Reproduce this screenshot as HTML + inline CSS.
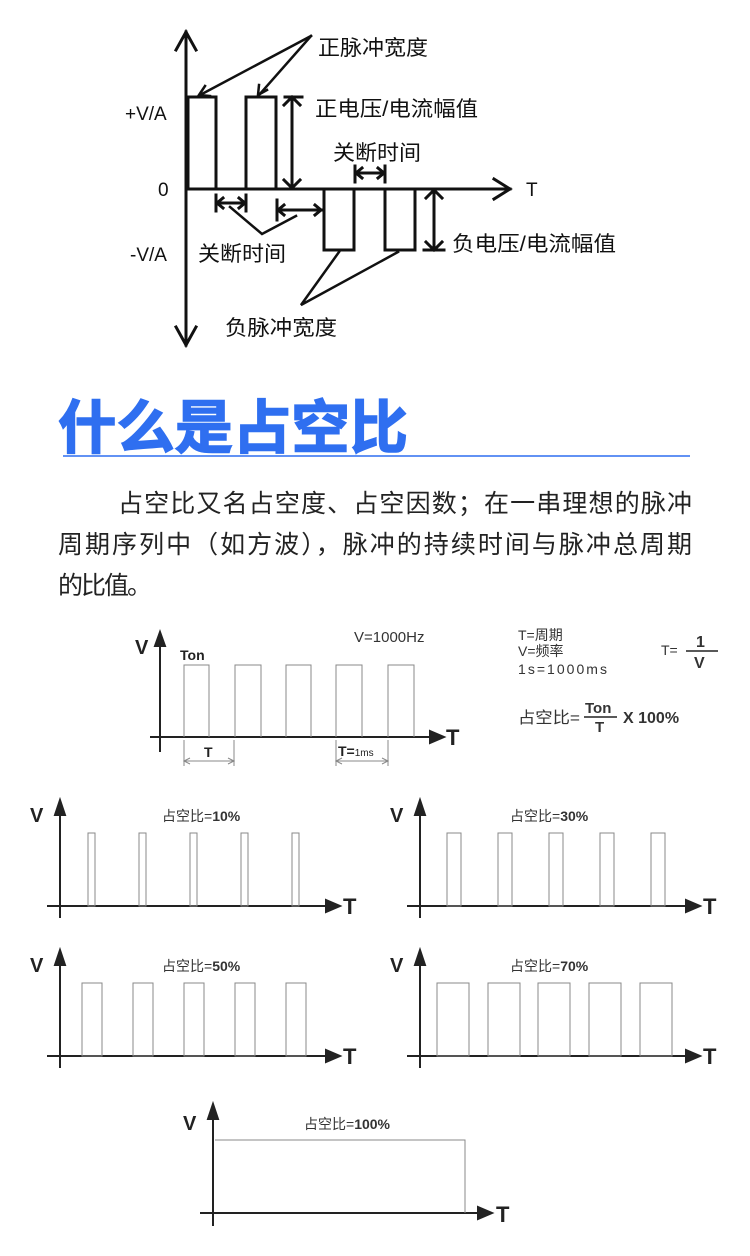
<!DOCTYPE html>
<html><head><meta charset="utf-8"><style>
html,body{margin:0;padding:0;background:#fff;}
svg{display:block;}
text{font-family:"Liberation Sans","Noto Sans CJK SC",sans-serif;}
</style></head><body>
<svg width="750" height="1256" viewBox="0 0 750 1256" xmlns="http://www.w3.org/2000/svg">
<!-- Top diagram -->
<g stroke="#111" stroke-width="3" fill="none" stroke-linecap="square">
<line x1="186" y1="32" x2="186" y2="345"/>
<polyline points="176,50 186,32 196,50"/>
<polyline points="176,327 186,345 196,327"/>
<line x1="186" y1="189" x2="510" y2="189"/>
<polyline points="494,179 510,189 494,199"/>
<polyline points="188,189 188,97 216,97 216,189"/>
<polyline points="246,189 246,97 276,97 276,189"/>
<polyline points="324,189 324,250 354,250 354,189"/>
<polyline points="385,189 385,250 415,250 415,189"/>
<line x1="292" y1="98" x2="292" y2="188"/><line x1="285" y1="97" x2="302" y2="97"/>
<polyline points="284,105 292,97 300,105"/><polyline points="284,180 292,188 300,180"/>
<line x1="434" y1="190" x2="434" y2="250"/><line x1="424" y1="250" x2="444" y2="250"/><line x1="427" y1="189" x2="441" y2="189"/>
<polyline points="426,198 434,190 442,198"/><polyline points="426,242 434,250 442,242"/>
<line x1="216" y1="203" x2="246" y2="203"/><line x1="216" y1="195" x2="216" y2="211"/><line x1="246" y1="195" x2="246" y2="211"/>
<polyline points="223,198 217,203 223,208"/><polyline points="239,198 245,203 239,208"/>
<line x1="277" y1="210" x2="322" y2="210"/><line x1="277" y1="200" x2="277" y2="220"/>
<polyline points="284,205 278,210 284,215"/><polyline points="315,205 321,210 315,215"/>
<line x1="355" y1="173" x2="385" y2="173"/><line x1="355" y1="166" x2="355" y2="182"/><line x1="385" y1="166" x2="385" y2="182"/>
<polyline points="362,168 356,173 362,178"/><polyline points="378,168 384,173 378,178"/>
<line x1="311" y1="36" x2="200" y2="95" stroke-width="2.5"/><polyline points="205,86 199,95 210,96" stroke-width="2.5"/>
<line x1="311" y1="36" x2="259" y2="95" stroke-width="2.5"/><polyline points="259,85 258,95 267,90" stroke-width="2.5"/>
<polyline points="230,207 262,234 296,216" stroke-width="2.5"/>
<polyline points="339,252 301,305 398,252" stroke-width="2.5"/>
</g>
<g font-size="21" fill="#111">
<text x="318" y="55" textLength="110" lengthAdjust="spacingAndGlyphs">正脉冲宽度</text>
<text x="315" y="116" textLength="163" lengthAdjust="spacingAndGlyphs">正电压/电流幅值</text>
<text x="333" y="160" textLength="88" lengthAdjust="spacingAndGlyphs">关断时间</text>
<text x="198" y="261" textLength="88" lengthAdjust="spacingAndGlyphs">关断时间</text>
<text x="225" y="335" textLength="112" lengthAdjust="spacingAndGlyphs">负脉冲宽度</text>
<text x="452" y="251" textLength="164" lengthAdjust="spacingAndGlyphs">负电压/电流幅值</text>
<text x="125" y="120" font-size="19">+V/A</text>
<text x="158" y="196" font-size="19">0</text>
<text x="130" y="261" font-size="19">-V/A</text>
<text x="526" y="196" font-size="19">T</text>
</g>
<!-- Title -->
<text x="58" y="448" font-size="58" font-weight="bold" fill="#2f6ff0" stroke="#2f6ff0" stroke-width="1.5" textLength="350" lengthAdjust="spacingAndGlyphs">什么是占空比</text>
<line x1="63" y1="456" x2="690" y2="456" stroke="#2f6ff0" stroke-width="1.5"/>
<g font-size="25" fill="#222">
<text x="118" y="512" textLength="574" lengthAdjust="spacing">占空比又名占空度、占空因数；在一串理想的脉冲</text>
<text x="58" y="553" textLength="634" lengthAdjust="spacing">周期序列中（如方波），脉冲的持续时间与脉冲总周期</text>
<text x="58" y="594" textLength="94" lengthAdjust="spacing">的比值。</text>
</g>
<!-- Chart 2 -->
<g stroke="#222" stroke-width="2" fill="none">
<line x1="160" y1="752" x2="160" y2="638"/><path d="M155,646 L160,632 L165,646z" fill="#222"/>
<line x1="150" y1="737" x2="436" y2="737"/><path d="M430,731 L444,737 L430,743z" fill="#222"/>
</g>
<g stroke="#888" stroke-width="1" fill="none">
<polyline points="184,737 184,665 209,665 209,737"/>
<polyline points="235,737 235,665 261,665 261,737"/>
<polyline points="286,737 286,665 311,665 311,737"/>
<polyline points="336,737 336,665 362,665 362,737"/>
<polyline points="388,737 388,665 414,665 414,737"/>
<line x1="184" y1="740" x2="184" y2="766"/><line x1="234" y1="740" x2="234" y2="766"/>
<line x1="336" y1="740" x2="336" y2="766"/><line x1="388" y1="740" x2="388" y2="766"/>
<line x1="184" y1="761" x2="234" y2="761"/><line x1="336" y1="761" x2="388" y2="761"/>
<polyline points="190,758 184,761 190,764"/><polyline points="228,758 234,761 228,764"/>
<polyline points="342,758 336,761 342,764"/><polyline points="382,758 388,761 382,764"/>
</g>
<g fill="#222" font-weight="bold">
<text x="135" y="654" font-size="20">V</text>
<text x="180" y="660" font-size="14">Ton</text>
<text x="446" y="745" font-size="22">T</text>
<text x="204" y="757" font-size="14">T</text>
<text x="338" y="756" font-size="14">T=<tspan font-size="10" font-weight="normal">1ms</tspan></text>
</g>
<g fill="#333">
<text x="354" y="642" font-size="15">V=1000Hz</text>
<text x="518" y="640" font-size="14">T=周期</text>
<text x="518" y="656" font-size="14">V=频率</text>
<text x="518" y="674" font-size="14" textLength="89" lengthAdjust="spacing">1s=1000ms</text>
<text x="661" y="655" font-size="14">T=</text>
<text x="696" y="647" font-size="16" font-weight="bold">1</text>
<line x1="686" y1="651" x2="718" y2="651" stroke="#222" stroke-width="1.5"/>
<text x="694" y="668" font-size="16" font-weight="bold">V</text>
<text x="518" y="723" font-size="16" textLength="62" lengthAdjust="spacingAndGlyphs">占空比=</text>
<text x="585" y="713" font-size="15" font-weight="bold">Ton</text>
<line x1="584" y1="717" x2="617" y2="717" stroke="#222" stroke-width="1.5"/>
<text x="595" y="732" font-size="15" font-weight="bold">T</text>
<text x="623" y="723" font-size="16" font-weight="bold">X 100%</text>
</g>
<!-- small charts -->
<g>
<g stroke="#222" stroke-width="2" fill="none">
<line x1="60" y1="918" x2="60" y2="806"/><path d="M55,815 L60,800 L65,815z" fill="#222"/>
<line x1="47" y1="906" x2="332" y2="906"/><path d="M326,900 L340,906 L326,912z" fill="#222"/>
</g>
<g stroke="#888" stroke-width="1" fill="none">
<rect x="88" y="833" width="7" height="73"/><rect x="139" y="833" width="7" height="73"/><rect x="190" y="833" width="7" height="73"/><rect x="241" y="833" width="7" height="73"/><rect x="292" y="833" width="7" height="73"/>
</g>
<text x="30" y="822" font-size="20" font-weight="bold" fill="#222">V</text>
<text x="343" y="914" font-size="22" font-weight="bold" fill="#222">T</text>
<text x="162" y="821" font-size="14" fill="#333">占空比=<tspan font-weight="bold">10%</tspan></text>
</g>
<g transform="translate(360,0)">
<g stroke="#222" stroke-width="2" fill="none">
<line x1="60" y1="918" x2="60" y2="806"/><path d="M55,815 L60,800 L65,815z" fill="#222"/>
<line x1="47" y1="906" x2="332" y2="906"/><path d="M326,900 L340,906 L326,912z" fill="#222"/>
</g>
<g stroke="#888" stroke-width="1" fill="none">
<rect x="87" y="833" width="14" height="73"/><rect x="138" y="833" width="14" height="73"/><rect x="189" y="833" width="14" height="73"/><rect x="240" y="833" width="14" height="73"/><rect x="291" y="833" width="14" height="73"/>
</g>
<text x="30" y="822" font-size="20" font-weight="bold" fill="#222">V</text>
<text x="343" y="914" font-size="22" font-weight="bold" fill="#222">T</text>
<text x="150" y="821" font-size="14" fill="#333">占空比=<tspan font-weight="bold">30%</tspan></text>
</g>
<g transform="translate(0,150)">
<g stroke="#222" stroke-width="2" fill="none">
<line x1="60" y1="918" x2="60" y2="806"/><path d="M55,815 L60,800 L65,815z" fill="#222"/>
<line x1="47" y1="906" x2="332" y2="906"/><path d="M326,900 L340,906 L326,912z" fill="#222"/>
</g>
<g stroke="#888" stroke-width="1" fill="none">
<rect x="82" y="833" width="20" height="73"/><rect x="133" y="833" width="20" height="73"/><rect x="184" y="833" width="20" height="73"/><rect x="235" y="833" width="20" height="73"/><rect x="286" y="833" width="20" height="73"/>
</g>
<text x="30" y="822" font-size="20" font-weight="bold" fill="#222">V</text>
<text x="343" y="914" font-size="22" font-weight="bold" fill="#222">T</text>
<text x="162" y="821" font-size="14" fill="#333">占空比=<tspan font-weight="bold">50%</tspan></text>
</g>
<g transform="translate(360,150)">
<g stroke="#222" stroke-width="2" fill="none">
<line x1="60" y1="918" x2="60" y2="806"/><path d="M55,815 L60,800 L65,815z" fill="#222"/>
<line x1="47" y1="906" x2="332" y2="906"/><path d="M326,900 L340,906 L326,912z" fill="#222"/>
</g>
<g stroke="#888" stroke-width="1" fill="none">
<rect x="77" y="833" width="32" height="73"/><rect x="128" y="833" width="32" height="73"/><rect x="178" y="833" width="32" height="73"/><rect x="229" y="833" width="32" height="73"/><rect x="280" y="833" width="32" height="73"/>
</g>
<text x="30" y="822" font-size="20" font-weight="bold" fill="#222">V</text>
<text x="343" y="914" font-size="22" font-weight="bold" fill="#222">T</text>
<text x="150" y="821" font-size="14" fill="#333">占空比=<tspan font-weight="bold">70%</tspan></text>
</g>
<!-- 100% -->
<g stroke="#222" stroke-width="2" fill="none">
<line x1="213" y1="1226" x2="213" y2="1110"/><path d="M208,1119 L213,1104 L218,1119z" fill="#222"/>
<line x1="200" y1="1213" x2="484" y2="1213"/><path d="M478,1207 L492,1213 L478,1219z" fill="#222"/>
</g>
<polyline points="215,1140 465,1140 465,1213" stroke="#888" stroke-width="1" fill="none"/>
<text x="183" y="1130" font-size="20" font-weight="bold" fill="#222">V</text>
<text x="496" y="1222" font-size="22" font-weight="bold" fill="#222">T</text>
<text x="304" y="1129" font-size="14" fill="#333">占空比=<tspan font-weight="bold">100%</tspan></text>
</svg>
</body></html>
